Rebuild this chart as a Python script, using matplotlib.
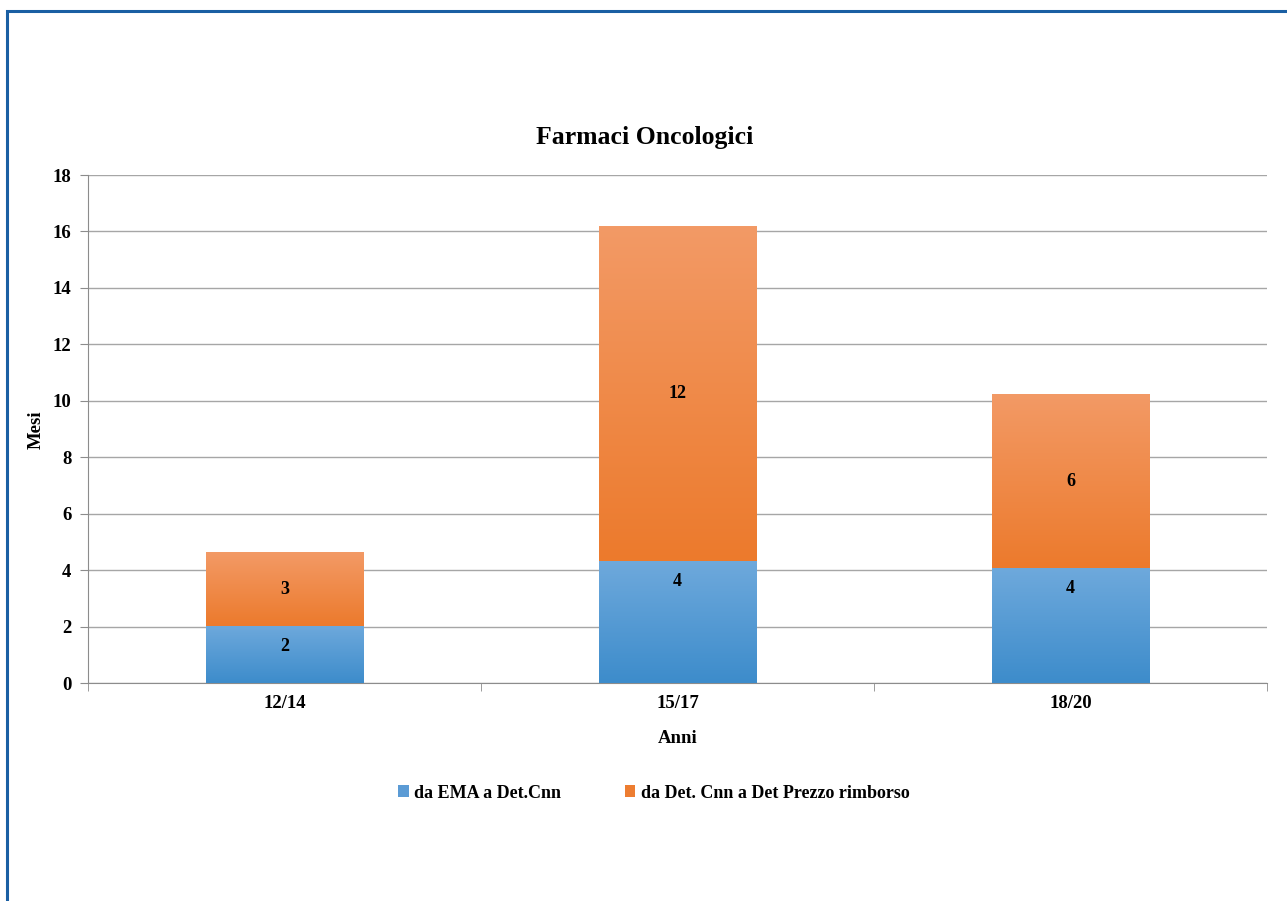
import numpy as np
import matplotlib.pyplot as plt
from matplotlib.patches import Rectangle
from matplotlib.colors import LinearSegmentedColormap

# dati (mesi)
anni = ['12/14', '15/17', '18/20']
ema_cnn = [2.02, 4.32, 4.07]
cnn_prezzo = [2.62, 11.87, 6.17]
etichette_ema = ['2', '4', '4']
etichette_prezzo = ['3', '12', '6']

plt.rcParams['font.family'] = ['Liberation Serif', 'DejaVu Serif']
plt.rcParams['font.weight'] = 'bold'

fig = plt.figure(figsize=(12.87, 9.01), dpi=100)
ax = fig.add_axes([88 / 1287, 218 / 901, 1179 / 1287, 508 / 901])

x = np.arange(len(anni))
w = 0.4
blu = LinearSegmentedColormap.from_list('blu', ['#3d8ccb', '#6ea9dc'])
arancio = LinearSegmentedColormap.from_list('arancio', ['#ec7a2c', '#f39a66'])

b1 = ax.bar(x, ema_cnn, w, color='#5b9bd5', zorder=2, label='da EMA a Det.Cnn')
b2 = ax.bar(x, cnn_prezzo, w, bottom=ema_cnn, color='#ed7d31', zorder=2,
            label='da Det. Cnn a Det Prezzo rimborso')

# sfumatura verticale sulle barre
grad = np.linspace(0, 1, 256).reshape(-1, 1)
for bars, cmap in [(b1, blu), (b2, arancio)]:
    for r in bars:
        x0, y0 = r.get_x(), r.get_y()
        im = ax.imshow(grad, cmap=cmap, origin='lower', aspect='auto',
                       extent=[x0, x0 + r.get_width(), y0, y0 + r.get_height()], zorder=3)
        im.set_clip_path(r)

for i in range(len(anni)):
    ax.text(x[i], ema_cnn[i] - 0.73, etichette_ema[i], ha='center', va='center',
            fontsize=13, fontweight='bold', zorder=4)
    ax.text(x[i], ema_cnn[i] + cnn_prezzo[i] / 2, etichette_prezzo[i], ha='center',
            va='center', fontsize=13, fontweight='bold', zorder=4)

ax.set_xlim(-0.5, 2.5)
ax.set_ylim(0, 18)
ax.set_yticks(range(0, 19, 2))
ax.set_xticks(x)
ax.set_xticklabels(anni)
ax.set_xticks([-0.5, 0.5, 1.5, 2.5], minor=True)
ax.tick_params(axis='x', which='major', length=0, pad=9, labelsize=13.5)
ax.tick_params(axis='x', which='minor', length=6, color='#8c8c8c')
ax.tick_params(axis='y', length=6, color='#8c8c8c', labelsize=13.5, pad=6)
ax.grid(axis='y', color='#a6a6a6', lw=1, zorder=0)
for s in ['top', 'right']:
    ax.spines[s].set_visible(False)
for s in ['left', 'bottom']:
    ax.spines[s].set_color('#8c8c8c')
ax.set_axisbelow(True)

ax.set_title('Farmaci Oncologici', fontsize=18.5, fontweight='bold', pad=22, x=0.472)
ax.set_xlabel('Anni', fontsize=13.5, fontweight='bold')
ax.xaxis.set_label_coords(0.5, -0.093)
ax.set_ylabel('Mesi', fontsize=13.5, fontweight='bold')
ax.yaxis.set_label_coords(-0.0365, 0.498)

ax.legend(loc='upper center', bbox_to_anchor=(0.48, -0.168), ncol=2, frameon=False,
          fontsize=13, handlelength=0.6, handleheight=0.6, handletextpad=0.3,
          columnspacing=3.5)

fig.patches.append(Rectangle((7 / 1287, -0.05), 1.2, 1.05 - 11 / 901, transform=fig.transFigure,
                             fill=False, ec='#1a5fa3', lw=2.2))

fig.savefig('out.png', dpi=100, facecolor='white')
